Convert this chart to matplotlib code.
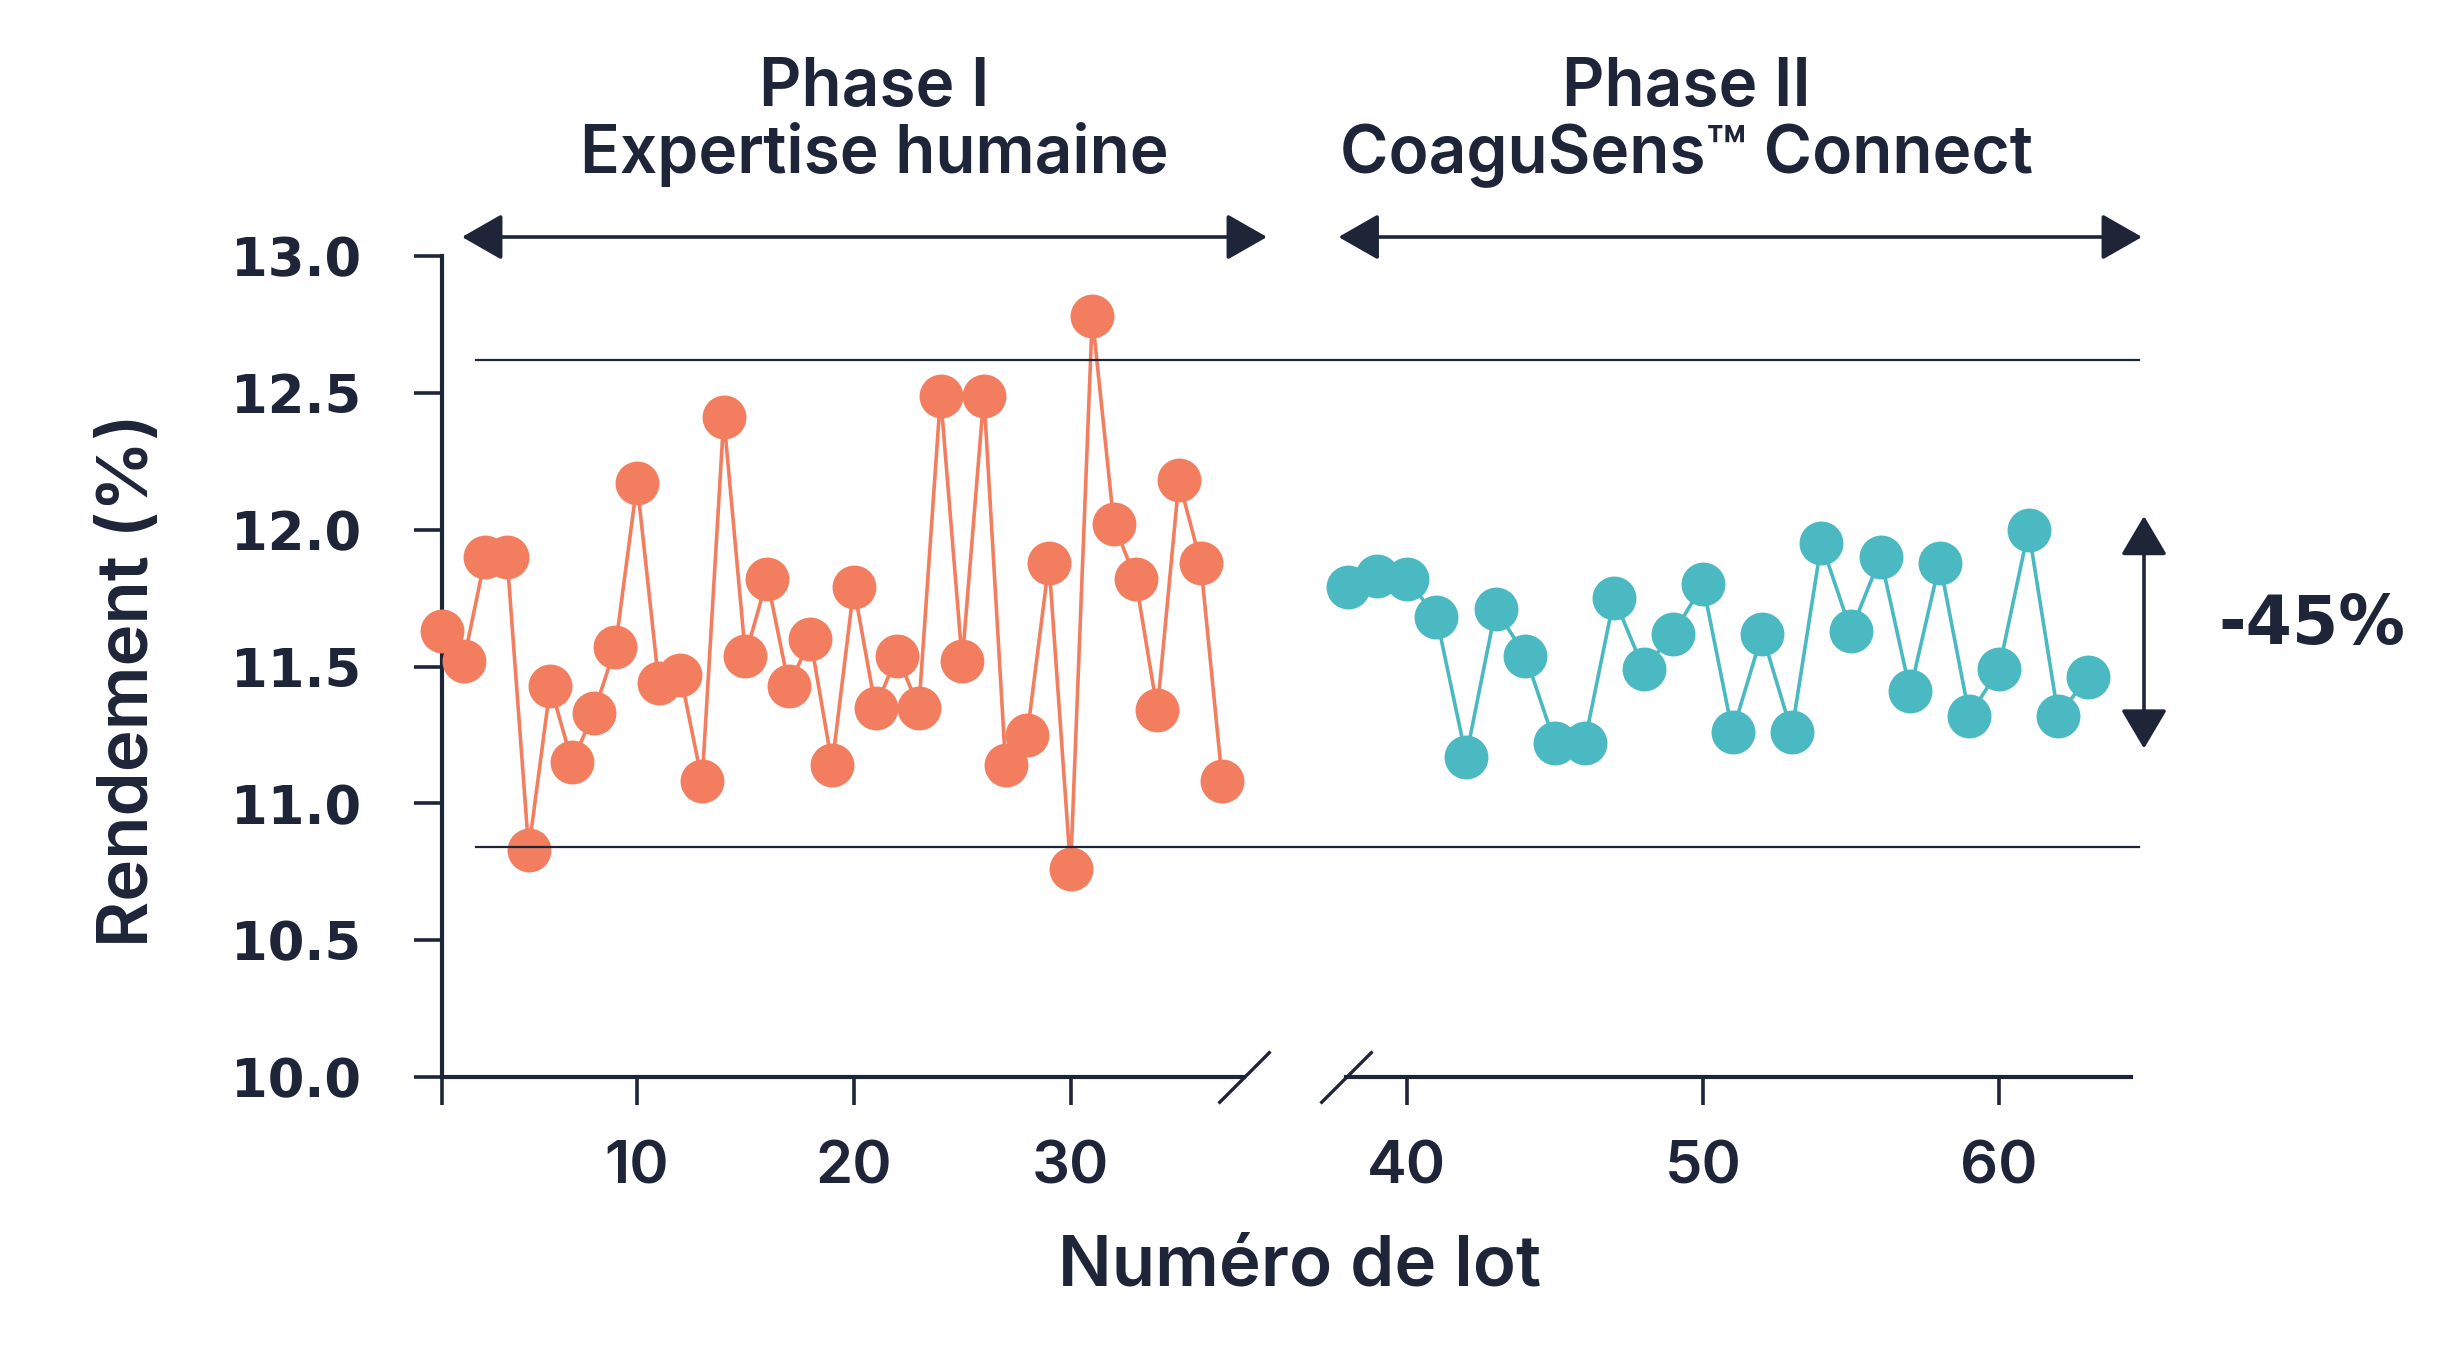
import matplotlib
matplotlib.use("Agg")
import matplotlib.pyplot as plt
from matplotlib.patches import FancyArrowPatch, ArrowStyle
from matplotlib.transforms import blended_transform_factory

# ---------------- data ----------------
phase1_lots = list(range(1, 38))
phase1_yield = [11.63, 11.52, 11.90, 11.90, 10.83, 11.43, 11.15, 11.33, 11.57, 12.17,
                11.44, 11.47, 11.08, 12.41, 11.54, 11.82, 11.43, 11.60, 11.14, 11.79,
                11.35, 11.54, 11.35, 12.49, 11.52, 12.49, 11.14, 11.25, 11.88, 10.76,
                12.78, 12.02, 11.82, 11.34, 12.18, 11.88, 11.08]
phase2_lots = list(range(38, 64))
phase2_yield = [11.79, 11.83, 11.82, 11.68, 11.17, 11.71, 11.54, 11.22, 11.22, 11.75,
                11.49, 11.62, 11.80, 11.26, 11.62, 11.26, 11.95, 11.63, 11.90, 11.41,
                11.88, 11.32, 11.49, 12.00, 11.32, 11.46]
control_limits = [12.62, 10.84]
range_arrow = [12.05, 11.20]
yticks = [10.0, 10.5, 11.0, 11.5, 12.0, 12.5, 13.0]
xticks_left = [1, 10, 20, 30]
xticks_left_labels = ["", "10", "20", "30"]
xticks_right = [40, 50, 60]
phase_titles = ["Phase I\nExpertise humaine", "Phase II\nCoaguSens\u2122 Connect"]
reduction_label = "-45%"
xlabel = "Numéro de lot"
ylabel = "Rendement (%)"

# ---------------- style ----------------
NAVY = "#1F2539"
ORANGE = "#F27E5F"
TEAL = "#4AB9C1"
TXT = ["Inter", "DejaVu Sans"]
WIDE = ["DejaVu Sans"]
TW = "semibold"

W, H, DPI = 2463, 1362, 200
fig = plt.figure(figsize=(W / DPI, H / DPI), dpi=DPI)
fig.patch.set_facecolor("white")

def fx(px):
    return px / W

def fy(py):
    return 1 - py / H

ax_bottom = fy(1077)
ax_h = fy(256) - fy(1077)
ax1 = fig.add_axes([fx(442), ax_bottom, fx(1244) - fx(442), ax_h])
ax2 = fig.add_axes([fx(1345.6), ax_bottom, fx(2131) - fx(1345.6), ax_h])

ms = 15.8
ax1.plot(phase1_lots, phase1_yield, "-o", color=ORANGE, lw=1.3, ms=ms, mew=0,
         clip_on=False, zorder=3)
ax2.plot(phase2_lots, phase2_yield, "-o", color=TEAL, lw=1.3, ms=ms, mew=0,
         clip_on=False, zorder=3)

ax1.set_xlim(1, 38)
ax2.set_xlim(37.93, 64.46)
for ax in (ax1, ax2):
    ax.set_ylim(10, 13)
    ax.set_facecolor("none")
    for s in ("top", "right"):
        ax.spines[s].set_visible(False)
    ax.spines["bottom"].set_linewidth(1.5)
    ax.spines["bottom"].set_color(NAVY)
    ax.tick_params(axis="x", direction="out", length=10, width=1.3, color=NAVY,
                   pad=13, labelcolor=NAVY, labelsize=21.5)
ax1.spines["left"].set_linewidth(1.5)
ax1.spines["left"].set_color(NAVY)
ax2.spines["left"].set_visible(False)
ax2.tick_params(axis="y", left=False, labelleft=False)

ax1.set_yticks(yticks)
ax1.set_yticklabels([f"{v:.1f}" for v in yticks], family=WIDE, fontweight="bold",
                    fontsize=19, color=NAVY)
ax1.tick_params(axis="y", direction="out", length=10, width=1.3, color=NAVY, pad=19)
ax1.set_xticks(xticks_left)
ax1.set_xticklabels(xticks_left_labels, family=TXT, fontweight=TW)
ax2.set_xticks(xticks_right)
ax2.set_xticklabels([str(v) for v in xticks_right], family=TXT, fontweight=TW)

# broken-axis marks
for ax, xpos in ((ax1, 1.0), (ax2, 0.0)):
    ax.plot([xpos], [0], transform=ax.transAxes, marker=[(-1, -1), (1, 1)],
            markersize=18.7, mec=NAVY, mew=1.2, ls="none", clip_on=False)

# control limit lines across both panels
blend = blended_transform_factory(fig.transFigure, ax1.transData)
for lim in control_limits:
    fig.add_artist(plt.Line2D([fx(476), fx(2139)], [lim, lim], transform=blend,
                              color=NAVY, lw=0.8))

# phase arrows
style = ArrowStyle("<|-|>", head_length=12.6, head_width=7.2)
for x0, x1 in ((462, 1267), (1338.5, 2142)):
    fig.add_artist(FancyArrowPatch((fx(x0), fy(237)), (fx(x1), fy(237)),
                                   arrowstyle=style, mutation_scale=1, lw=1.3,
                                   color=NAVY, shrinkA=0, shrinkB=0,
                                   transform=fig.transFigure))

# phase titles
for title, cx in zip(phase_titles, (874, 1686)):
    l1, l2 = title.split("\n")
    fig.text(fx(cx), fy(106), l1, ha="center", va="baseline", family=TXT,
             fontweight=TW, fontsize=23.7, color=NAVY)
    fig.text(fx(cx), fy(173), l2, ha="center", va="baseline", family=TXT,
             fontweight=TW, fontsize=23.7, color=NAVY)

# variation reduction arrow
blend2 = blended_transform_factory(fig.transFigure, ax2.transData)
vstyle = ArrowStyle("<|-|>", head_length=12.2, head_width=7.2)
fig.add_artist(FancyArrowPatch((fx(2144), range_arrow[0]), (fx(2144), range_arrow[1]),
                               arrowstyle=vstyle, mutation_scale=1, lw=1.3,
                               color=NAVY, shrinkA=0, shrinkB=0, transform=blend2))
fig.text(fx(2218), fy(625), reduction_label, ha="left", va="center", family=WIDE,
         fontweight="bold", fontsize=24, color=NAVY)

# axis titles
fig.text(fx(1300), fy(1286), xlabel, ha="center", va="baseline", family=TXT,
         fontweight=TW, fontsize=25.5, color=NAVY)
fig.text(fx(130), fy(680), ylabel, ha="center", va="center", rotation=90,
         family=TXT, fontweight=TW, fontsize=25.5, color=NAVY)

fig.savefig("out.png", dpi=DPI, facecolor="white")
